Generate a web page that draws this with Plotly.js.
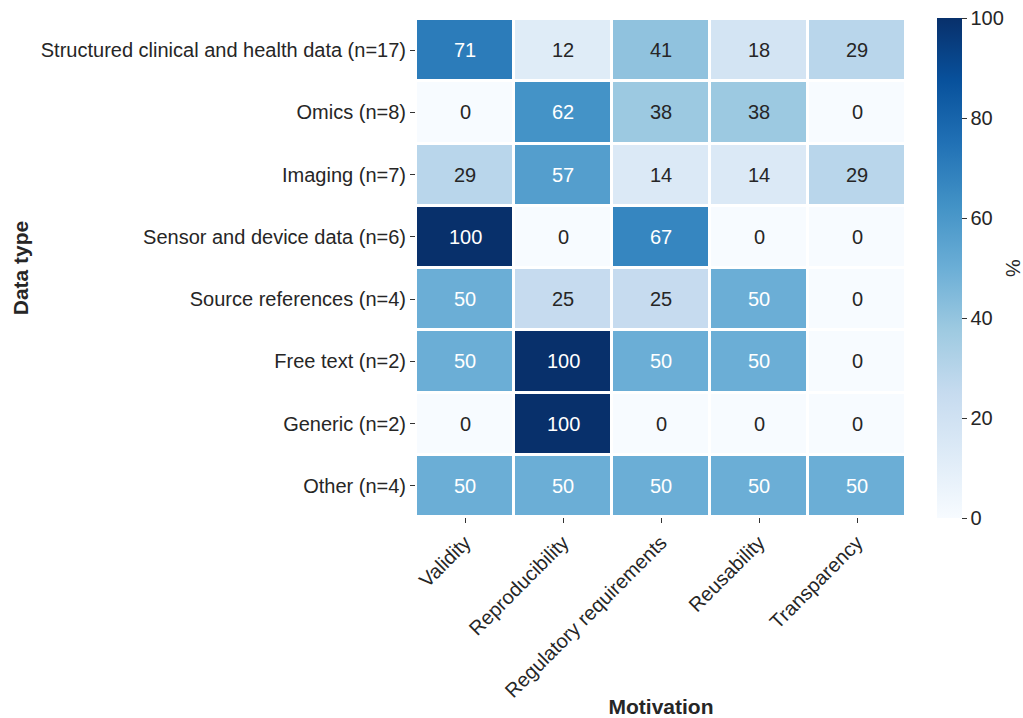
<!DOCTYPE html>
<html>
<head>
<meta charset="utf-8">
<script src="https://cdn.plot.ly/plotly-3.0.1.min.js"></script>
<style>html,body{margin:0;padding:0;background:#fff;}#chart{width:1023px;height:718px;}</style>
</head>
<body>
<div id="chart"></div>
<script>
const dataTypes = [
  "Structured clinical and health data (n=17)",
  "Omics (n=8)",
  "Imaging (n=7)",
  "Sensor and device data (n=6)",
  "Source references (n=4)",
  "Free text (n=2)",
  "Generic (n=2)",
  "Other (n=4)"
];
const motivations = ["Validity", "Reproducibility", "Regulatory requirements", "Reusability", "Transparency"];
const validity        = [71, 0, 29, 100, 50, 50, 0, 50];
const reproducibility = [12, 62, 57, 0, 25, 100, 100, 50];
const regulatory      = [41, 38, 14, 67, 25, 50, 0, 50];
const reusability     = [18, 38, 14, 0, 50, 50, 0, 50];
const transparency    = [29, 0, 29, 0, 0, 0, 0, 50];

const columns = [validity, reproducibility, regulatory, reusability, transparency];
const z = dataTypes.map((_, i) => columns.map(col => col[i]));

const blues = [
  [0.0, "#f7fbff"], [0.125, "#deebf7"], [0.25, "#c6dbef"], [0.375, "#9ecae1"],
  [0.5, "#6baed6"], [0.625, "#4292c6"], [0.75, "#2171b5"], [0.875, "#08519c"], [1.0, "#08306b"]
];

const FONT = "Liberation Sans, Arial, sans-serif";
const annotations = [];
dataTypes.forEach((d, i) => {
  motivations.forEach((m, j) => {
    const v = z[i][j];
    annotations.push({
      x: m, y: d, xref: "x", yref: "y", text: String(v), showarrow: false,
      font: {family: FONT, size: 20, color: v >= 50 ? "#ffffff" : "#262626"}
    });
  });
});
annotations.push({
  x: 1.218, y: 0.5, xref: "paper", yref: "paper", text: "%", showarrow: false,
  textangle: 90, xanchor: "center", yanchor: "middle",
  font: {family: FONT, size: 20, color: "#262626"}
});

const trace = {
  type: "heatmap",
  x: motivations,
  y: dataTypes,
  z: z,
  zmin: 0, zmax: 100,
  colorscale: blues,
  xgap: 3, ygap: 3,
  colorbar: {
    x: 1.043, xanchor: "left", xref: "paper",
    y: 0.5, yanchor: "middle", len: 1.005, lenmode: "fraction", ypad: 0,
    thickness: 25, outlinewidth: 0,
    ticks: "outside", ticklen: 5, tickwidth: 1, tickcolor: "#333",
    tickvals: [0, 20, 40, 60, 80, 100],
    tickfont: {family: FONT, size: 20, color: "#262626"}
  }
};

const layout = {
  width: 1023, height: 718,
  margin: {l: 416, r: 117, t: 19, b: 201, autoexpand: false},
  paper_bgcolor: "#ffffff", plot_bgcolor: "#ffffff",
  font: {family: FONT, size: 20, color: "#262626"},
  xaxis: {
    type: "category", tickangle: -45, ticks: "outside", ticklen: 5, tickcolor: "#333",
    showgrid: false, zeroline: false, showline: false,
    tickfont: {size: 20, color: "#262626"},
    title: {text: "<b>Motivation</b>", font: {size: 21, color: "#262626"}, standoff: 8}
  },
  yaxis: {
    type: "category", autorange: "reversed", ticks: "outside", ticklen: 5, tickcolor: "#333",
    showgrid: false, zeroline: false, showline: false,
    tickfont: {size: 20, color: "#262626"},
    title: {text: "<b>Data type</b>", font: {size: 21, color: "#262626"}, standoff: 6}
  },
  annotations: annotations
};

Plotly.newPlot("chart", [trace], layout, {displayModeBar: false, staticPlot: true});
</script>
</body>
</html>
